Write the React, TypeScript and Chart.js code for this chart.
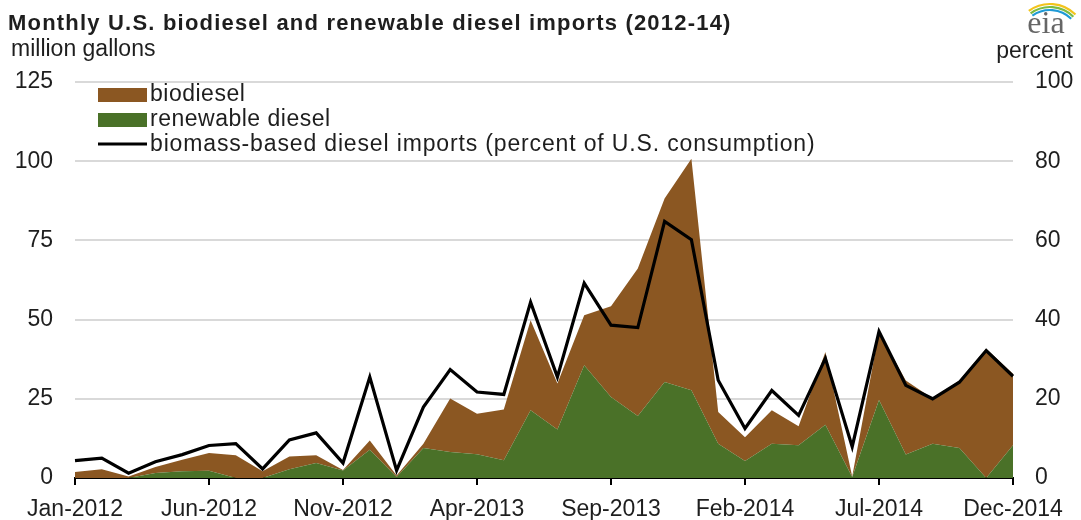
import React, { useEffect, useRef } from "react";
import { Chart, registerables } from "chart.js";

Chart.register(...registerables);

const months = [
  "Jan-2012","Feb-2012","Mar-2012","Apr-2012","May-2012","Jun-2012","Jul-2012","Aug-2012","Sep-2012","Oct-2012","Nov-2012","Dec-2012",
  "Jan-2013","Feb-2013","Mar-2013","Apr-2013","May-2013","Jun-2013","Jul-2013","Aug-2013","Sep-2013","Oct-2013","Nov-2013","Dec-2013",
  "Jan-2014","Feb-2014","Mar-2014","Apr-2014","May-2014","Jun-2014","Jul-2014","Aug-2014","Sep-2014","Oct-2014","Nov-2014","Dec-2014",
];

const renewableDiesel = [
  0, 0, 0, 1.6, 2.1, 2.3, 0, 0, 2.8, 4.7, 2.4, 8.9,
  0.3, 9.5, 8.2, 7.5, 5.6, 21.4, 15.3, 35.6, 25.6, 19.6, 30.3, 27.7,
  10.8, 5.4, 10.8, 10.3, 16.8, 0.3, 24.6, 7.4, 10.8, 9.5, 0, 10.3,
];

const biodiesel = [
  1.9, 2.8, 0.5, 1.9, 3.7, 5.6, 7.2, 2.1, 4.0, 2.5, 0.1, 2.9,
  0.5, 1.3, 16.9, 12.8, 16.0, 28.4, 14.5, 15.8, 28.6, 46.5, 57.9, 73.1,
  10.0, 7.5, 10.6, 6.0, 23.0, 0.2, 21.5, 23.4, 14.3, 21.3, 40.8, 22.6,
];

const importShare = [
  4.4, 5.0, 1.2, 4.1, 5.9, 8.2, 8.7, 2.3, 9.6, 11.4, 3.8, 25.5,
  1.9, 17.9, 27.4, 21.7, 21.1, 44.4, 25.5, 49.2, 38.6, 38.0, 64.8, 60.2,
  24.7, 12.5, 22.1, 15.8, 30.2, 7.9, 37.0, 23.4, 20.0, 24.2, 32.2, 25.7,
];

const titleText = "Monthly U.S. biodiesel and renewable diesel imports (2012-14)";
const leftUnit = "million gallons";
const rightUnit = "percent";
const legendLabels = ["biodiesel", "renewable diesel", "biomass-based diesel imports (percent of U.S. consumption)"];

const BROWN = "#8b5722";
const GREEN = "#4a7128";
const FONT = "'Liberation Sans', Arial, sans-serif";
const TEXT = "#1e1e1e";

const overlay = {
  id: "overlay",
  afterDraw(chart: any) {
    const ctx = chart.ctx as any;
    ctx.save();
    ctx.fillStyle = TEXT;
    ctx.textBaseline = "middle";
    ctx.textAlign = "left";
    ctx.font = `bold 22px ${FONT}`;
    ctx.letterSpacing = "1.2px";
    ctx.fillText(titleText, 8, 24);
    ctx.letterSpacing = "0px";
    ctx.font = `23px ${FONT}`;
    ctx.fillText(leftUnit, 11, 50);
    ctx.textAlign = "right";
    ctx.fillText(rightUnit, 1073, 52);

    // legend
    ctx.textAlign = "left";
    const lx = 98;
    ctx.fillStyle = BROWN;
    ctx.fillRect(lx, 88, 49, 14);
    ctx.fillStyle = GREEN;
    ctx.fillRect(lx, 113, 49, 14);
    ctx.strokeStyle = "#000";
    ctx.lineWidth = 3;
    ctx.beginPath();
    ctx.moveTo(lx, 144);
    ctx.lineTo(lx + 49, 144);
    ctx.stroke();
    ctx.fillStyle = TEXT;
    ctx.letterSpacing = "0.5px";
    ctx.fillText(legendLabels[0], 150, 95);
    ctx.fillText(legendLabels[1], 150, 120);
    ctx.letterSpacing = "0.85px";
    ctx.fillText(legendLabels[2], 150, 145);
    ctx.letterSpacing = "0px";

    // eia logo
    const cx = 1050, cy = 40;
    const arcs = [
      { r: 36, c: "#f2c41b" },
      { r: 33, c: "#7dbb42" },
      { r: 30, c: "#1f9ad6" },
    ];
    ctx.lineWidth = 2.2;
    arcs.forEach((a) => {
      ctx.strokeStyle = a.c;
      ctx.beginPath();
      ctx.arc(cx, cy, a.r, Math.PI * 1.3, Math.PI * 1.75);
      ctx.stroke();
    });
    ctx.fillStyle = "#666";
    ctx.font = `32px 'Liberation Serif', 'DejaVu Serif', serif`;
    ctx.textAlign = "center";
    ctx.textBaseline = "alphabetic";
    ctx.fillText("eia", 1046, 33);
    ctx.restore();
  },
};

export default function App() {
  const ref = useRef<HTMLCanvasElement | null>(null);

  useEffect(() => {
    document.body.style.margin = "0";
    const canvas = ref.current;
    if (!canvas) return;
    const chart = new Chart(canvas, {
      type: "line",
      data: {
        labels: months,
        datasets: [
          {
            label: legendLabels[2],
            data: importShare,
            yAxisID: "y1",
            borderColor: "#000",
            borderWidth: 3.2,
            pointRadius: 0,
            fill: false,
            tension: 0,
            order: 0,
          },
          {
            label: legendLabels[1],
            data: renewableDiesel,
            yAxisID: "y",
            stack: "g",
            backgroundColor: GREEN,
            borderColor: GREEN,
            borderWidth: 0,
            pointRadius: 0,
            fill: "origin",
            tension: 0,
            order: 1,
          },
          {
            label: legendLabels[0],
            data: biodiesel,
            yAxisID: "y",
            stack: "g",
            backgroundColor: BROWN,
            borderColor: BROWN,
            borderWidth: 0,
            pointRadius: 0,
            fill: "-1",
            tension: 0,
            order: 1,
          },
        ],
      },
      options: {
        responsive: false,
        animation: false,
        layout: { padding: { top: 82, left: 0, right: 0, bottom: 0 } },
        plugins: {
          legend: { display: false },
          title: { display: false },
          tooltip: { enabled: false },
        },
        scales: {
          x: {
            type: "category",
            offset: false,
            afterFit(scale: any) {
              scale.height = 42;
            },
            grid: {
              drawOnChartArea: false,
              drawTicks: true,
              tickLength: 7,
              lineWidth: 2,
              color: (c: any) => (c.index % 5 === 0 ? "#000" : "rgba(0,0,0,0)"),
            },
            border: { display: true, color: "#000", width: 2 },
            ticks: {
              autoSkip: false,
              maxRotation: 0,
              minRotation: 0,
              padding: 11,
              color: TEXT,
              font: { family: FONT, size: 23 },
              callback: (_v: any, i: number) => (i % 5 === 0 ? months[i] : ""),
            },
          },
          y: {
            position: "left",
            stacked: true,
            min: 0,
            max: 125,
            afterFit(scale: any) {
              scale.width = 75;
            },
            grid: { color: "#d9d9d9", lineWidth: 2, drawTicks: false },
            border: { display: false },
            ticks: {
              stepSize: 25,
              padding: 22,
              color: TEXT,
              font: { family: FONT, size: 23 },
            },
          },
          y1: {
            position: "right",
            min: 0,
            max: 100,
            afterFit(scale: any) {
              scale.width = 68;
            },
            grid: { drawOnChartArea: false, drawTicks: false },
            border: { display: false },
            ticks: {
              stepSize: 20,
              padding: 22,
              color: TEXT,
              font: { family: FONT, size: 23 },
            },
          },
        },
      },
      plugins: [overlay],
    });
    return () => chart.destroy();
  }, []);

  return (
    <div style={{ width: 1081, height: 520, background: "#fff" }}>
      <canvas ref={ref} width={1081} height={520} style={{ display: "block" }} />
    </div>
  );
}
